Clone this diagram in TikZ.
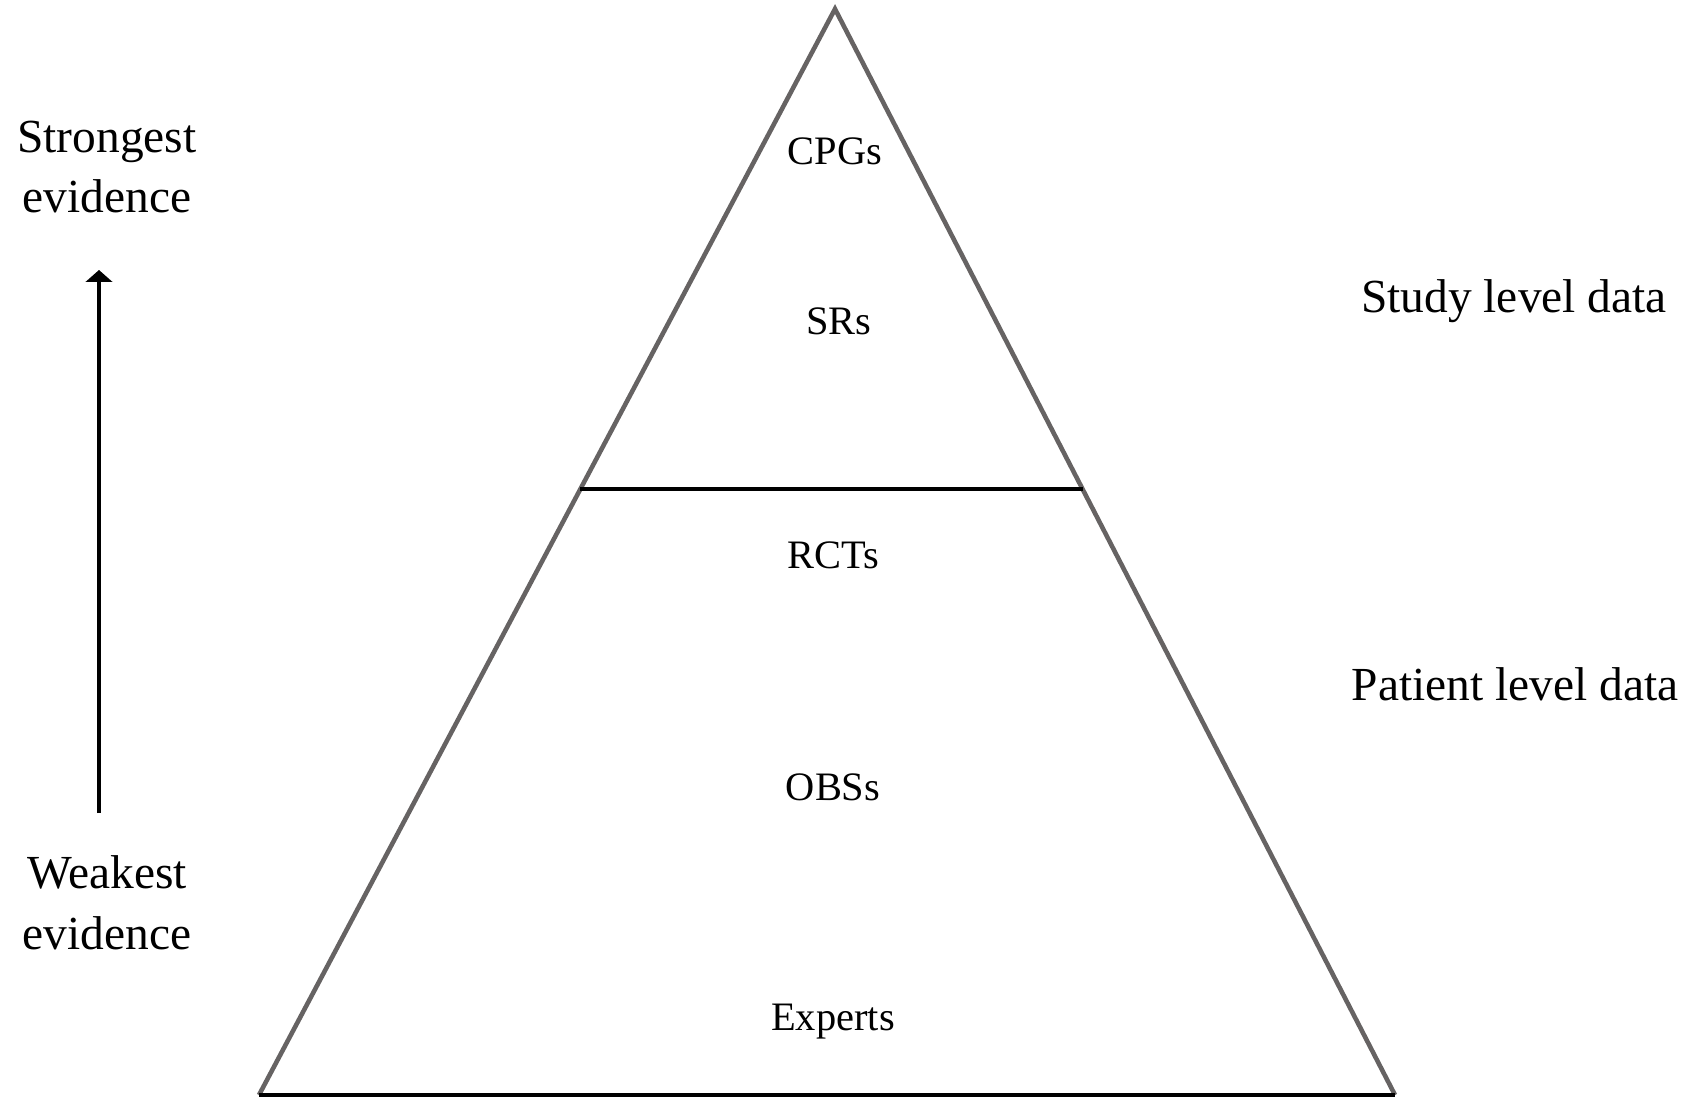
\documentclass[tikz,border=0pt]{standalone}
\usepackage{fontspec}
\setmainfont{Liberation Serif}
\usepackage{tikz}
\usetikzlibrary{arrows.meta,calc}
\definecolor{pyrgray}{RGB}{102,99,99}
\tikzstyle{level}=[inner sep=0pt, anchor=base, font=\fontsize{23}{28}\selectfont]
\tikzstyle{side}=[inner sep=0pt, align=center, font=\fontsize{27}{34.6}\selectfont]

\begin{document}
\begin{tikzpicture}[x=0.02cm, y=-0.02cm]
	\useasboundingbox (0,0) rectangle (1695,1098);

	% pyramid
	\coordinate (apex) at (835,9);
	\coordinate (baseL) at (259,1095);
	\coordinate (baseR) at (1395,1095);
	\coordinate (cutL) at ($(apex)!0.442!(baseL)$);
	\coordinate (cutR) at ($(apex)!0.442!(baseR)$);

	\draw[pyrgray, line width=2.6pt, line join=miter] (baseL) -- (apex) -- (baseR);
	\draw[black, line width=2.6pt] (baseL) -- (baseR);
	\draw[black, line width=2.6pt] (cutL) -- (cutR);

	\node[level] (cpgs) at (835,165) {CPGs};
	\node[level] (srs) at (839,335) {SRs};
	\node[level] (rcts) at (833,568) {RCTs};
	\node[level] (obss) at (833,800) {OBSs};
	\node[level] (experts) at (833,1030) {Experts};

	% evidence scale
	\node[side] (strong) at (107,167) {Strongest\\evidence};
	\node[side] (weak) at (107,903) {Weakest\\evidence};
	\coordinate (arrbot) at (99,813);
	\coordinate (arrtop) at (99,270);
	\draw[line width=2.5pt, -{Triangle[width=15pt, length=6.8pt]}] (arrbot) -- (arrtop);

	\node[side, anchor=base] (study) at (1514,313) {Study level data};
	\node[side, anchor=base] (patient) at (1515,700) {Patient level data};
\end{tikzpicture}
\end{document}
